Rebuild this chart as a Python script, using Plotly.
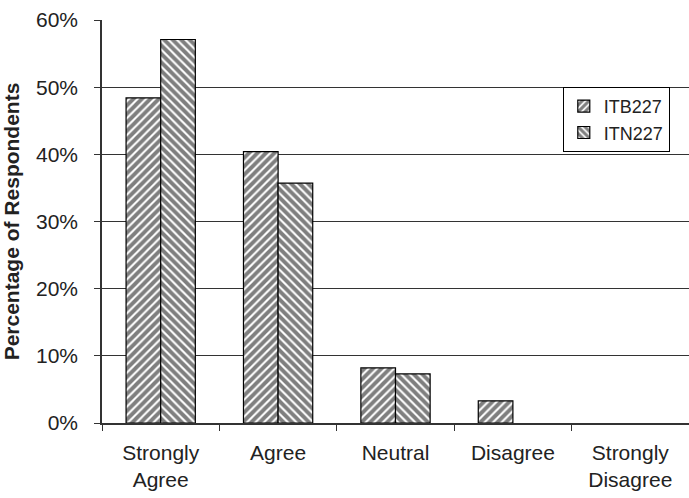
import plotly.graph_objects as go

categories = ["Strongly<br>Agree", "Agree", "Neutral", "Disagree", "Strongly<br>Disagree"]
itb227 = [0.484, 0.404, 0.082, 0.033, 0.0]
itn227 = [0.571, 0.357, 0.073, 0.0, 0.0]
y_ticks = [0, 0.1, 0.2, 0.3, 0.4, 0.5, 0.6]


def outline(vals):
    return [1.2 if v > 0 else 0 for v in vals]


fig = go.Figure()
fig.add_trace(go.Bar(
    x=categories, y=itb227, name="ITB227",
    marker=dict(color="white", line=dict(color="black", width=outline(itb227)),
                pattern=dict(shape="/", fgcolor="black", bgcolor="white", size=6, solidity=0.65)),
))
fig.add_trace(go.Bar(
    x=categories, y=itn227, name="ITN227",
    marker=dict(color="white", line=dict(color="black", width=outline(itn227)),
                pattern=dict(shape="\\", fgcolor="black", bgcolor="white", size=6, solidity=0.65)),
))

fig.update_layout(
    width=689, height=498,
    margin=dict(l=102, r=0, t=20, b=75),
    paper_bgcolor="white", plot_bgcolor="white",
    font=dict(family="Liberation Sans, Arial, sans-serif", size=21, color="#222"),
    barmode="group", bargap=0.41, bargroupgap=0,
    showlegend=True,
    legend=dict(x=0.785, y=0.834, xanchor="left", yanchor="top",
                bordercolor="black", borderwidth=1, bgcolor="white",
                font=dict(size=18, color="#222"), itemwidth=30, tracegroupgap=2),
    xaxis=dict(tickson="boundaries", ticks="outside", ticklen=6, tickcolor="#333",
               showline=True, linecolor="#333", linewidth=1.5, showgrid=False,
               tickfont=dict(size=21), ticklabelstandoff=10),
    yaxis=dict(range=[0, 0.6], tickvals=y_ticks, tickformat=".0%",
               ticks="outside", ticklen=6, tickcolor="#333",
               showline=True, linecolor="#333", linewidth=1.5,
               showgrid=True, gridcolor="#333", gridwidth=1,
               title=dict(text="<b>Percentage of Respondents</b>", font=dict(size=21), standoff=14),
               tickfont=dict(size=21), ticklabelstandoff=12),
)

fig.write_html("out.html")
